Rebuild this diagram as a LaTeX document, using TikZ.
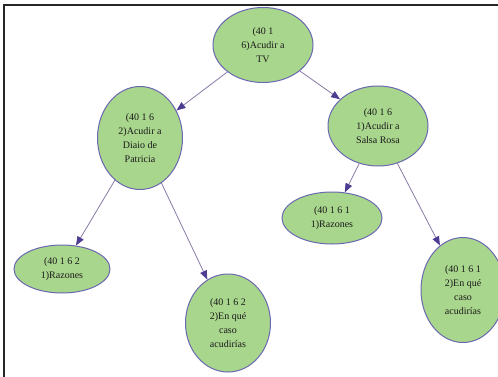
\documentclass[tikz,border=0pt]{standalone}
\usepackage{fontspec}
\setmainfont{Liberation Serif}
\usetikzlibrary{shapes.geometric,arrows.meta}
\definecolor{nodefill}{HTML}{A9D68D}
\definecolor{nodeline}{HTML}{6A68B0}
\definecolor{edgeline}{HTML}{8A7AA8}
\definecolor{tipcol}{HTML}{4E3C92}
\definecolor{txt}{HTML}{1A1A1A}
\tikzset{
  bubble/.style={ellipse, draw=nodeline, line width=1pt, fill=nodefill, inner sep=0pt,
    align=center, text=txt, font=\fontsize{10}{14}\selectfont},
  link/.style={draw=edgeline, line width=0.8pt,
    -{Triangle[length=9pt,width=7pt,color=tipcol,fill=tipcol]}},
  frame/.style={draw=black!85, line width=2.5pt}
}
\begin{document}
\begin{tikzpicture}[x=1pt,y=-1pt]
\useasboundingbox (0,0) rectangle (498,377);
\begin{scope}
\clip (0,0) rectangle (498,377);
\fill[white] (0,0) rectangle (498,377);
\node[bubble, minimum width=100pt, minimum height=75pt] (tv) at (263,45) {(40 1\\6)Acudir a\\TV};
\node[bubble, minimum width=85pt, minimum height=103pt] (pat) at (140,138) {(40 1 6\\2)Acudir a\\Diaio de\\Patricia};
\node[bubble, minimum width=100pt, minimum height=80pt] (sal) at (378,126) {(40 1 6\\1)Acudir a\\Salsa Rosa};
\node[bubble, minimum width=96pt, minimum height=48pt] (r2) at (62,269) {(40 1 6 2\\1)Razones};
\node[bubble, minimum width=100pt, minimum height=52pt] (r1) at (332,218) {(40 1 6 1\\1)Razones};
\node[bubble, minimum width=85pt, minimum height=98pt] (e2) at (228,323) {(40 1 6 2\\2)En qué\\caso\\acudirías};
\node[bubble, minimum width=84pt, minimum height=105pt] (e1) at (463,290) {(40 1 6 1\\2)En qué\\caso\\acudirías};
\draw[link] (tv) -- (pat);
\draw[link] (tv) -- (sal);
\draw[link] (pat) -- (r2);
\draw[link] (pat) -- (e2);
\draw[link] (sal) -- (r1);
\draw[link] (sal) -- (e1);
\end{scope}
\coordinate (fa) at (4,377);
\coordinate (fb) at (4,5);
\coordinate (fc) at (498,5);
\draw[frame] (fa) -- (fb) -- (fc);
\end{tikzpicture}
\end{document}
